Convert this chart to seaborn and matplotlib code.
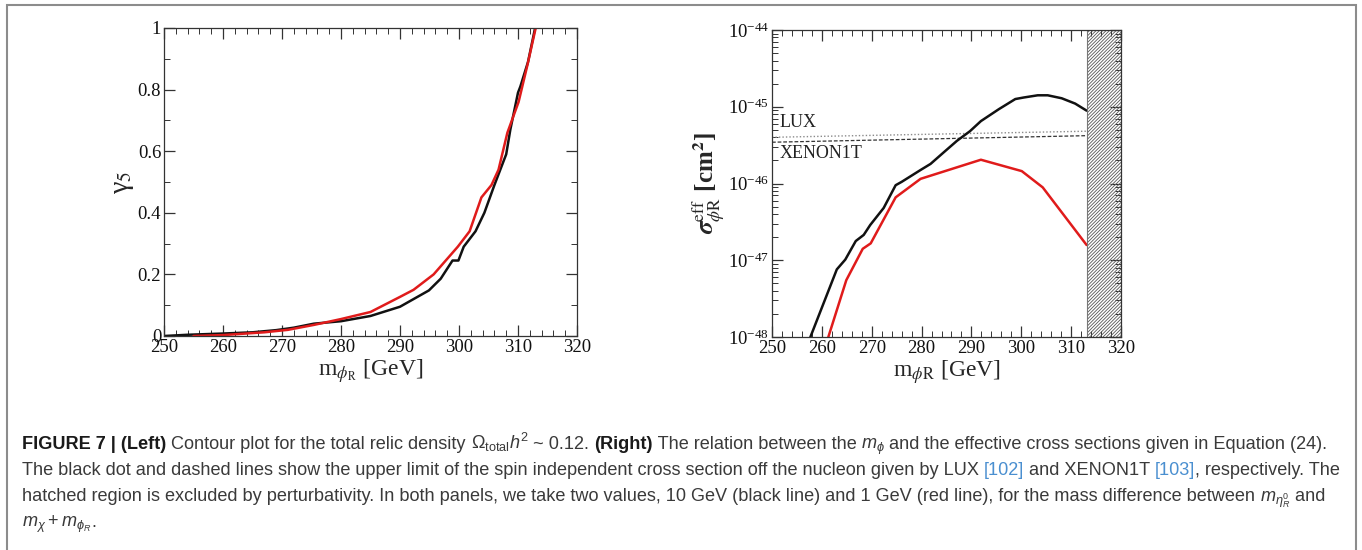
import matplotlib
matplotlib.use('Agg')
import matplotlib.pyplot as plt
import seaborn as sns
import numpy as np
import pandas as pd
from matplotlib.ticker import MultipleLocator, LogLocator, LogFormatterMathtext, NullFormatter
from matplotlib.patches import Rectangle

# ---------------- data ----------------
# Left panel: gamma_5 vs m_phiR
left_black_m = [250, 254, 260, 265, 269, 272, 275.4, 280, 285, 290, 294.9, 296.9,
                298.9, 299.9, 300.8, 302.8, 304.3, 306, 308, 308.7, 310, 310.4, 311.7, 312.9]
left_black_g5 = [0.0, 0.004, 0.008, 0.012, 0.019, 0.027, 0.040, 0.048, 0.065, 0.095, 0.148, 0.186,
                 0.245, 0.245, 0.29, 0.34, 0.40, 0.49, 0.59, 0.67, 0.79, 0.81, 0.89, 1.0]
left_red_m = [255, 260, 267, 271, 275.4, 280, 285, 290, 292.3, 295.7, 299.8, 301.8,
              303.8, 305.5, 306.7, 308.2, 310.1, 311.6, 313]
left_red_g5 = [0.0, 0.003, 0.012, 0.020, 0.036, 0.055, 0.078, 0.127, 0.15, 0.20, 0.29, 0.34,
               0.45, 0.49, 0.54, 0.66, 0.76, 0.88, 1.0]

# Right panel: effective cross section vs m_phiR
right_black_m = [257.7, 263, 264.7, 266.8, 268.4, 269.7, 272.4, 274.8, 276, 279.8, 281.8, 284.6,
                 287.1, 289.7, 291.9, 295.5, 298.8, 300.5, 303.3, 305.3, 308.1, 310.8, 313.1]
right_black_sigma = [1.0e-48, 7.6e-48, 1.02e-47, 1.78e-47, 2.14e-47, 2.88e-47, 4.8e-47, 9.5e-47,
                     1.05e-46, 1.5e-46, 1.8e-46, 2.6e-46, 3.6e-46, 4.8e-46, 6.5e-46, 9.3e-46,
                     1.26e-45, 1.32e-45, 1.41e-45, 1.41e-45, 1.29e-45, 1.10e-45, 8.9e-46]
right_red_m = [261.3, 264.9, 268.2, 269.8, 274.8, 279.8, 291.9, 300.1, 304.3, 313.1]
right_red_sigma = [1.0e-48, 5.5e-48, 1.41e-47, 1.66e-47, 6.6e-47, 1.15e-46, 2.04e-46, 1.45e-46,
                   8.9e-47, 1.58e-47]

lux_m = [250, 313.1]
lux_sigma = [4.0e-46, 4.8e-46]
xenon_m = [250, 313.1]
xenon_sigma = [3.45e-46, 4.2e-46]

excluded_m = [313.1, 320]

left_xticks = [250, 260, 270, 280, 290, 300, 310, 320]
left_yticks = [0, 0.2, 0.4, 0.6, 0.8, 1.0]
left_yticklabels = ['0', '0.2', '0.4', '0.6', '0.8', '1']
right_yticks = [1e-48, 1e-47, 1e-46, 1e-45, 1e-44]

caption_lines = [
    [("FIGURE 7 | (Left)", 'b'), (" Contour plot for the total relic density ", 'r'),
     (r"$\Omega_{\mathrm{total}}h^2$", 'm'), (" ~ 0.12. ", 'r'), ("(Right)", 'b'),
     (" The relation between the ", 'r'), (r"$m_\phi$", 'm'),
     (" and the effective cross sections given in Equation (24).", 'r')],
    [("The black dot and dashed lines show the upper limit of the spin independent cross section off the nucleon given by LUX ", 'r'),
     ("[102]", 'c'), (" and XENON1T ", 'r'), ("[103]", 'c'), (", respectively. The", 'r')],
    [("hatched region is excluded by perturbativity. In both panels, we take two values, 10 GeV (black line) and 1 GeV (red line), for the mass difference between ", 'r'),
     (r"$m_{\eta_R^0}$", 'm'), (" and", 'r')],
    [(r"$m_\chi+m_{\phi_R}$", 'm'), (".", 'r')],
]

# ---------------- style ----------------
sns.set_style('ticks')
plt.rcParams['font.family'] = ['Liberation Serif', 'DejaVu Serif']
plt.rcParams['mathtext.fontset'] = 'stix'
plt.rcParams['mathtext.rm'] = 'Liberation Sans'
plt.rcParams['mathtext.it'] = 'Liberation Sans:italic'
plt.rcParams['mathtext.bf'] = 'Liberation Sans:bold'
plt.rcParams['mathtext.sf'] = 'Liberation Sans'
plt.rcParams['hatch.linewidth'] = 0.6
plt.rcParams['axes.edgecolor'] = '#222222'
plt.rcParams['axes.linewidth'] = 0.9

W, H = 1362, 550
fig = plt.figure(figsize=(W / 100, H / 100), dpi=100)
fig.patch.set_facecolor('white')

def fx(px):
    return px / W

def fy(py):
    return 1 - py / H

ax1 = fig.add_axes([fx(164), fy(336), fx(577) - fx(164), fy(28) - fy(336)])
ax2 = fig.add_axes([fx(772), fy(337), fx(1121) - fx(772), fy(30) - fy(337)])

BLACK = '#111111'
RED = '#e01b1b'

# ----- left panel -----
sns.lineplot(x=left_black_m, y=left_black_g5, ax=ax1, color=BLACK, lw=1.8,
             sort=False, estimator=None)
sns.lineplot(x=left_red_m, y=left_red_g5, ax=ax1, color=RED, lw=1.8,
             sort=False, estimator=None)
ax1.set_xlim(250, 320)
ax1.set_ylim(0, 1)
ax1.set_xticks(left_xticks)
ax1.xaxis.set_minor_locator(MultipleLocator(2))
ax1.set_yticks(left_yticks)
ax1.set_yticklabels(left_yticklabels)
ax1.yaxis.set_minor_locator(MultipleLocator(0.1))
ax1.set_xlabel(r"m$_{\phi_{\rm R}}$ [GeV]", fontsize=17)
ax1.set_ylabel("γ$_5$", fontsize=20)
ax1.xaxis.set_label_coords(0.5, -0.068)
ax1.yaxis.set_label_coords(-0.068, 0.5)

# ----- right panel -----
ax2.set_yscale('log')
sns.lineplot(x=lux_m, y=lux_sigma, ax=ax2, color='#8a8a8a', lw=1.0, linestyle=(0, (1, 1.5)),
             sort=False, estimator=None)
sns.lineplot(x=xenon_m, y=xenon_sigma, ax=ax2, color='#333333', lw=0.9, linestyle=(0, (3, 1.5)),
             sort=False, estimator=None)
sns.lineplot(x=right_black_m, y=right_black_sigma, ax=ax2, color=BLACK, lw=1.8,
             sort=False, estimator=None)
sns.lineplot(x=right_red_m, y=right_red_sigma, ax=ax2, color=RED, lw=1.8,
             sort=False, estimator=None)
ax2.axvspan(excluded_m[0], excluded_m[1], facecolor='none', edgecolor='#555555',
            hatch='/' * 10, linewidth=0)
ax2.axvline(excluded_m[0], color='#777777', lw=0.8)
ax2.set_xlim(250, 320)
ax2.set_ylim(1e-48, 1e-44)
ax2.set_xticks(left_xticks)
ax2.xaxis.set_minor_locator(MultipleLocator(2))
ax2.set_yticks(right_yticks)
ax2.yaxis.set_minor_locator(LogLocator(base=10, subs=np.arange(2, 10), numticks=20))
ax2.yaxis.set_major_formatter(LogFormatterMathtext())
ax2.yaxis.set_minor_formatter(NullFormatter())
ax2.set_ylim(1e-48, 1e-44)
ax2.set_xlabel(r"m$_{\phi \rm R}$ [GeV]", fontsize=17)
ax2.set_ylabel(r"$\boldsymbol{\sigma}^{\rm eff}_{\phi \rm R}$ [cm$^{\mathbf{2}}$]", fontsize=18,
               fontweight='bold')
ax2.xaxis.set_label_coords(0.5, -0.068)
ax2.yaxis.set_label_coords(-0.128, 0.5)
ax2.text(251.6, 6.3e-46, "LUX", fontsize=13, ha='left', va='center', color='#222222')
ax2.text(251.6, 2.45e-46, "XENON1T", fontsize=13, ha='left', va='center', color='#222222')

for ax in (ax1, ax2):
    ax.tick_params(which='both', direction='in', top=True, right=True, colors='#333333')
    ax.tick_params(which='major', length=8, width=0.9, labelsize=13.5, pad=2, labelcolor='#111111')
    ax.tick_params(which='minor', length=4, width=0.7)
    for sp in ax.spines.values():
        sp.set_visible(True)
        sp.set_color('#333333')

# ---------------- outer frame ----------------
fig.add_artist(Rectangle((fx(7), fy(560)), fx(1356) - fx(7), fy(5) - fy(560),
                         transform=fig.transFigure, fill=False, edgecolor='#8c8c8c',
                         lw=1.5, clip_on=False))

# ---------------- caption ----------------
renderer = fig.canvas.get_renderer()
CAP_FAMILY = ['Liberation Sans', 'DejaVu Sans']

def props(kind, size):
    p = dict(fontsize=size, family=CAP_FAMILY, va='baseline', ha='left',
             math_fontfamily='custom')
    if kind == 'b':
        p.update(fontweight='bold', color='#1a1a1a')
    elif kind == 'c':
        p.update(color='#4a8fd0')
    else:
        p.update(color='#3a3a3a')
    return p

def measure(s, kind, size):
    t = fig.text(0, 0, s + '|', **props(kind, size))
    w1 = t.get_window_extent(renderer).width
    t.remove()
    t = fig.text(0, 0, '|', **props(kind, size))
    w2 = t.get_window_extent(renderer).width
    t.remove()
    return w1 - w2

base = 11.0
widest = max(sum(measure(s, k, base) for s, k in line) for line in caption_lines)
cap_size = base * (1343 - 22) / widest

baselines = [449, 475, 501, 527]
for line, yb in zip(caption_lines, baselines):
    x = 22.0
    for s, k in line:
        fig.text(fx(x), fy(yb), s, **props(k, cap_size))
        x += measure(s, k, cap_size)

fig.savefig('out.png', dpi=100, facecolor='white')
